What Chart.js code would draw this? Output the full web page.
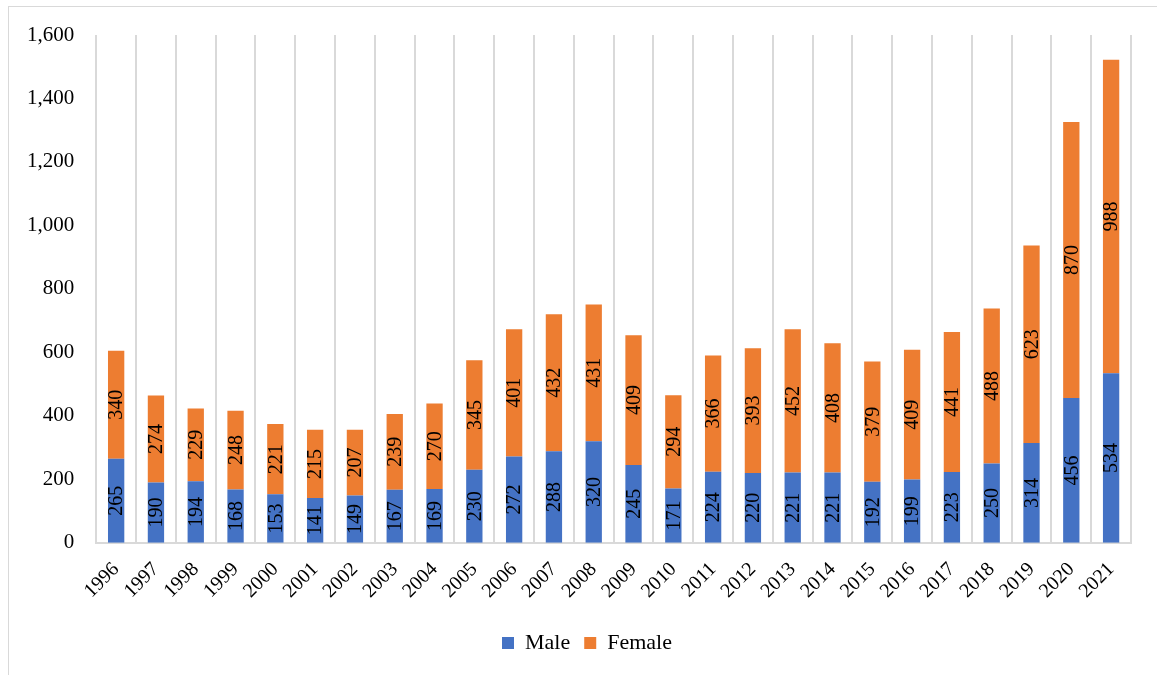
<!DOCTYPE html>
<html lang="en">
<head>
    <meta charset="UTF-8">
    <title>Male and Female by Year</title>
    <style>
        body, html {
            margin: 0;
            background: white;
            font-family: "Liberation Serif", serif;
        }
        .frame {
            position: absolute;
            left: 8px;
            top: 6px;
            width: 1200px;
            height: 700px;
            border: 1px solid #d9d9d9;
            box-sizing: border-box;
        }
        .chart-box {
            position: absolute;
            left: 0;
            top: 0;
            width: 1157px;
            height: 675px;
        }
    </style>
    <script src="https://cdn.jsdelivr.net/npm/chart.js"></script>
</head>
<body>
    <div class="frame"></div>
    <div class="chart-box">
        <canvas id="chart"></canvas>
    </div>

    <script>
        // data
        const years = ['1996', '1997', '1998', '1999', '2000', '2001', '2002', '2003', '2004', '2005',
            '2006', '2007', '2008', '2009', '2010', '2011', '2012', '2013', '2014', '2015',
            '2016', '2017', '2018', '2019', '2020', '2021'];
        const male = [265, 190, 194, 168, 153, 141, 149, 167, 169, 230,
            272, 288, 320, 245, 171, 224, 220, 221, 221, 192,
            199, 223, 250, 314, 456, 534];
        const female = [340, 274, 229, 248, 221, 215, 207, 239, 270, 345,
            401, 432, 431, 409, 294, 366, 393, 452, 408, 379,
            409, 441, 488, 623, 870, 988];
        const yTicks = [0, 200, 400, 600, 800, 1000, 1200, 1400, 1600];

        const serif = '"Liberation Serif", "Times New Roman", serif';

        // labels written sideways in the middle of each bar piece
        const barLabels = {
            id: 'barLabels',
            afterDatasetsDraw(chart) {
                const ctx = chart.ctx;
                ctx.save();
                ctx.font = '20px ' + serif;
                ctx.fillStyle = '#000';
                ctx.textAlign = 'center';
                ctx.textBaseline = 'middle';
                chart.data.datasets.forEach((ds, i) => {
                    const meta = chart.getDatasetMeta(i);
                    meta.data.forEach((bar, j) => {
                        const mid = (bar.y + bar.base) / 2;
                        ctx.save();
                        ctx.translate(bar.x, mid);
                        ctx.rotate(-Math.PI / 2);
                        ctx.fillText(String(ds.data[j]), 0, 1);
                        ctx.restore();
                    });
                });
                ctx.restore();
            }
        };

        // the original legend sits a bit right of the plot centre
        const legendShift = {
            id: 'legendShift',
            afterLayout(chart) {
                chart.legend.left += 15;
                chart.legend.right += 15;
            }
        };

        new Chart(document.getElementById('chart'), {
            type: 'bar',
            data: {
                labels: years,
                datasets: [{
                    label: 'Male',
                    data: male,
                    backgroundColor: '#4472C4'
                }, {
                    label: 'Female',
                    data: female,
                    backgroundColor: '#ED7D31'
                }]
            },
            options: {
                responsive: true,
                maintainAspectRatio: false,
                animation: false,
                layout: {
                    padding: { top: 35, left: 13, right: 26, bottom: 11 }
                },
                datasets: {
                    bar: {
                        barPercentage: 0.41,
                        categoryPercentage: 1
                    }
                },
                scales: {
                    x: {
                        stacked: true,
                        grid: {
                            offset: true,
                            color: '#d9d9d9',
                            lineWidth: 2,
                            drawTicks: false
                        },
                        border: { color: '#d9d9d9', width: 2 },
                        ticks: {
                            color: '#000',
                            font: { family: serif, size: 20 },
                            minRotation: 45,
                            maxRotation: 45,
                            padding: 15
                        }
                    },
                    y: {
                        stacked: true,
                        min: 0,
                        max: 1600,
                        afterBuildTicks(axis) {
                            axis.ticks = yTicks.map(v => ({ value: v }));
                        },
                        grid: { display: false },
                        border: { display: false },
                        ticks: {
                            color: '#000',
                            font: { family: serif, size: 21 },
                            padding: 14,
                            callback: v => v.toLocaleString('en-US')
                        }
                    }
                },
                plugins: {
                    legend: {
                        position: 'bottom',
                        labels: {
                            color: '#000',
                            font: { family: serif, size: 22 },
                            boxWidth: 12,
                            boxHeight: 12,
                            padding: 14
                        }
                    },
                    tooltip: { enabled: false }
                }
            },
            plugins: [barLabels, legendShift]
        });
    </script>
</body>
</html>
